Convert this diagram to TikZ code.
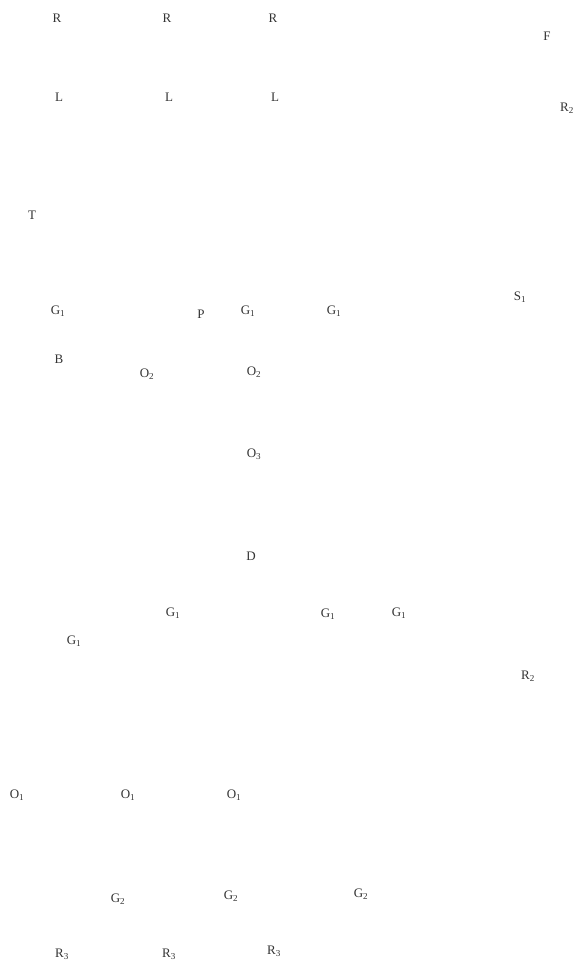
\documentclass[tikz,border=0pt]{standalone}
\usepackage{fontspec}
\setmainfont{Liberation Serif}

\begin{document}
\begin{tikzpicture}[x=1pt, y=-1pt]
        \useasboundingbox (0,0) rectangle (576,968);
        \begin{scope}[every node/.style={inner sep=0pt, text=black!80, font=\fontsize{13}{15}\selectfont}]
            % top rows
            \node (r1) at (57,18) {R};
            \node (r2) at (167,18) {R};
            \node (r3) at (273,18) {R};
            \node (l1) at (59,97) {L};
            \node (l2) at (169,97) {L};
            \node (l3) at (275,97) {L};
            \node (f) at (547,36) {F};
            \node[anchor=east] (rr) at (574,108) {R\textsubscript{2}};
            \node (t) at (32,215) {T};
            % middle
            \node (ga) at (58,311) {G\textsubscript{1}};
            \node (p) at (201,314) {P};
            \node (gb) at (248,311) {G\textsubscript{1}};
            \node (gc) at (334,311) {G\textsubscript{1}};
            \node (s) at (520,297) {S\textsubscript{1}};
            \node (b) at (59,359) {B};
            \node (oa) at (147,374) {O\textsubscript{2}};
            \node (ob) at (254,372) {O\textsubscript{2}};
            \node (oc) at (254,454) {O\textsubscript{3}};
            \node (d) at (251,556) {D};
            % lower
            \node (gd) at (173,613) {G\textsubscript{1}};
            \node (ge) at (328,614) {G\textsubscript{1}};
            \node (gf) at (399,613) {G\textsubscript{1}};
            \node (gg) at (74,641) {G\textsubscript{1}};
            \node (rs) at (528,676) {R\textsubscript{2}};
            \node (od) at (17,795) {O\textsubscript{1}};
            \node (oe) at (128,795) {O\textsubscript{1}};
            \node (of) at (234,795) {O\textsubscript{1}};
            \node (gh) at (118,899) {G\textsubscript{2}};
            \node (gi) at (231,896) {G\textsubscript{2}};
            \node (gj) at (361,894) {G\textsubscript{2}};
            \node (ra) at (62,954) {R\textsubscript{3}};
            \node (rb) at (169,954) {R\textsubscript{3}};
            \node (rc) at (274,951) {R\textsubscript{3}};
        \end{scope}
    \end{tikzpicture}
\end{document}
